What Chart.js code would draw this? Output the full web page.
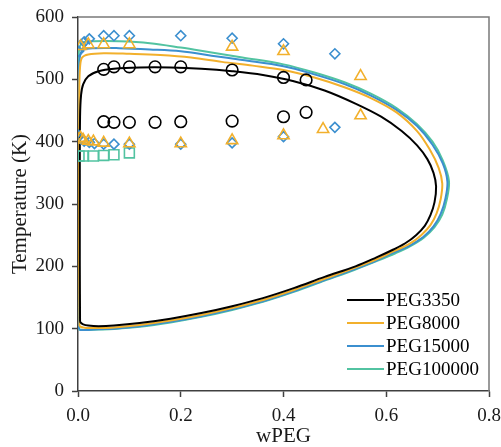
<!DOCTYPE html>
<html>
<head>
<meta charset="utf-8">
<script src="https://cdn.jsdelivr.net/npm/chart.js@4/dist/chart.umd.min.js"></script>
<style>
  html, body { margin: 0; padding: 0; background: #ffffff; }
  #c { display: block; }
</style>
</head>
<body>
<canvas id="c" width="501" height="447"></canvas>
<script>
// Binodal curves of PEG solutions: weight fraction of PEG vs temperature
const seriesNames  = ['PEG3350', 'PEG8000', 'PEG15000', 'PEG100000'];
const seriesColors = ['#000000', '#F2B02C', '#3B8FCF', '#52C3A1'];

const xTickValues = [0, 0.2, 0.4, 0.6, 0.8];
const yTickValues = [0, 100, 200, 300, 400, 500, 600];

// Model curves (closed loop: dilute branch, upper branch, nose, lower branch)
const peg3350W = [0.004, 0.0035, 0.0035, 0.004, 0.006, 0.01, 0.02, 0.04, 0.07, 0.12, 0.18, 0.24, 0.30, 0.36, 0.42, 0.48, 0.54, 0.59, 0.63, 0.66, 0.68, 0.692, 0.697, 0.694, 0.686, 0.675, 0.658, 0.637, 0.614, 0.58, 0.54, 0.48, 0.42, 0.36, 0.30, 0.24, 0.18, 0.12, 0.07, 0.04, 0.02, 0.01, 0.005, 0.004];
const peg3350T = [112, 200, 350, 440, 475, 492, 505, 513, 517, 519, 519, 517, 513, 507, 497, 482, 461, 440, 417, 394, 372, 350, 328, 303, 282, 265, 250, 237, 227, 214, 200, 183, 165, 149, 136, 125, 116, 109, 105, 104, 105, 107, 110, 112];

const peg8000W = [0.003, 0.002, 0.002, 0.0025, 0.004, 0.008, 0.02, 0.05, 0.10, 0.16, 0.22, 0.28, 0.34, 0.40, 0.46, 0.52, 0.57, 0.62, 0.66, 0.685, 0.702, 0.709, 0.706, 0.698, 0.686, 0.668, 0.645, 0.614, 0.58, 0.54, 0.48, 0.42, 0.36, 0.30, 0.24, 0.18, 0.12, 0.07, 0.04, 0.02, 0.01, 0.005, 0.003];
const peg8000T = [104, 200, 350, 480, 520, 535, 540, 542, 541, 539, 535, 528, 522, 515, 503, 487, 470, 447, 417, 387, 358, 333, 308, 285, 266, 250, 236, 224, 211, 198, 180, 162, 146, 133, 122, 113, 106, 102, 101, 101, 102, 103, 104];

const peg15000W = [0.002, 0.0015, 0.0015, 0.002, 0.004, 0.01, 0.03, 0.08, 0.14, 0.20, 0.26, 0.32, 0.40, 0.46, 0.52, 0.57, 0.62, 0.66, 0.69, 0.71, 0.719, 0.715, 0.706, 0.692, 0.672, 0.645, 0.614, 0.58, 0.54, 0.48, 0.42, 0.36, 0.30, 0.24, 0.18, 0.12, 0.07, 0.04, 0.02, 0.01, 0.005, 0.002];
const peg15000T = [99, 200, 400, 510, 538, 547, 550, 550, 548, 545, 538, 531, 521, 508, 492, 474, 451, 425, 395, 365, 336, 308, 284, 264, 247, 233, 222, 209, 196, 178, 160, 144, 131, 120, 111, 104, 100, 99, 98, 98, 98, 99];

const peg100000W = [0.001, 0.001, 0.001, 0.0012, 0.003, 0.01, 0.03, 0.08, 0.14, 0.20, 0.26, 0.32, 0.40, 0.46, 0.52, 0.57, 0.62, 0.66, 0.69, 0.71, 0.722, 0.718, 0.709, 0.694, 0.673, 0.646, 0.618, 0.58, 0.54, 0.48, 0.42, 0.36, 0.30, 0.24, 0.18, 0.12, 0.07, 0.04, 0.02, 0.01, 0.004, 0.001];
const peg100000T = [99, 200, 400, 530, 552, 559, 561, 561, 558, 551, 543, 535, 524, 511, 495, 477, 454, 428, 400, 370, 337, 308, 283, 263, 246, 232, 221, 208, 195, 177, 159, 143, 130, 119, 110, 103, 99.5, 98.5, 98, 98, 98.5, 99];

// Experimental cloud points
const exp3350W      = [0.05, 0.07, 0.10, 0.15, 0.20, 0.30, 0.40, 0.444];
const exp3350UpperT = [516, 520, 520, 520, 520, 515, 503, 499];
const exp3350LowerT = [432, 431, 431, 431, 432, 433, 440, 447];

const exp8000UpperW = [0.005, 0.02, 0.05, 0.10, 0.30, 0.40, 0.55];
const exp8000UpperT = [553, 556, 556, 556, 552, 545, 505];
const exp8000LowerW = [0.005, 0.01, 0.02, 0.03, 0.05, 0.10, 0.20, 0.30, 0.40, 0.477, 0.55];
const exp8000LowerT = [406, 403, 401, 400, 398, 397, 397, 402, 410, 420, 442];

const exp15000UpperW = [0.001, 0.006, 0.012, 0.022, 0.05, 0.07, 0.10, 0.20, 0.30, 0.40, 0.50];
const exp15000UpperT = [545, 555, 560, 565, 570, 570, 570, 570, 566, 557, 541];
const exp15000LowerW = [0.001, 0.006, 0.012, 0.022, 0.032, 0.05, 0.07, 0.10, 0.20, 0.30, 0.40, 0.50];
const exp15000LowerT = [410, 404, 401, 399, 397, 396, 396, 396, 396, 398, 408, 423];

const exp100000W = [0.002, 0.01, 0.03, 0.05, 0.07, 0.10];
const exp100000T = [377, 377, 377, 378, 379, 382];

const toPoints = (xs, ys) => xs.map((x, i) => ({ x: x, y: ys[i] }));

const serifFont = '"Liberation Serif", "Times New Roman", serif';

function curve(i, xs, ys) {
  return {
    label: seriesNames[i],
    data: toPoints(xs, ys),
    showLine: true,
    borderColor: seriesColors[i],
    backgroundColor: seriesColors[i],
    borderWidth: 2,
    pointRadius: 0,
    pointHoverRadius: 0,
    tension: 0.35,
    fill: false,
    isCurve: true
  };
}

function markers(label, xs, ys, color, style, radius) {
  return {
    label: label,
    data: toPoints(xs, ys),
    showLine: false,
    pointStyle: style,
    pointRadius: radius,
    pointBorderColor: color,
    pointBackgroundColor: 'rgba(255,255,255,0)',
    pointBorderWidth: 1.6,
    borderColor: color,
    backgroundColor: 'rgba(255,255,255,0)',
    isCurve: false
  };
}

// Gray frame along the top and right of the plot
const framePlugin = {
  id: 'frame',
  afterDraw(chart) {
    const a = chart.chartArea, ctx = chart.ctx;
    ctx.save();
    ctx.strokeStyle = '#7a7a7a';
    ctx.lineWidth = 1.5;
    ctx.beginPath();
    ctx.moveTo(a.left, a.top);
    ctx.lineTo(a.right, a.top);
    ctx.lineTo(a.right, a.bottom);
    ctx.stroke();
    ctx.restore();
  }
};

// Legend of the model curves, placed in the lower right corner of the plot
const cornerLegend = {
  id: 'cornerLegend',
  afterDraw(chart) {
    const a = chart.chartArea, ctx = chart.ctx;
    const curves = chart.data.datasets.filter(d => d.isCurve);
    ctx.save();
    ctx.font = '19px ' + serifFont;
    ctx.textBaseline = 'middle';
    ctx.textAlign = 'left';
    curves.forEach((d, i) => {
      const y = a.bottom - 91 + i * 23;
      ctx.strokeStyle = d.borderColor;
      ctx.lineWidth = 2;
      ctx.beginPath();
      ctx.moveTo(a.right - 142, y);
      ctx.lineTo(a.right - 105, y);
      ctx.stroke();
      ctx.fillStyle = '#000000';
      ctx.fillText(d.label, a.right - 103, y + 1);
    });
    ctx.restore();
  }
};

new Chart(document.getElementById('c'), {
  type: 'scatter',
  data: {
    datasets: [
      markers('PEG3350 upper', exp3350W, exp3350UpperT, seriesColors[0], 'circle', 5.8),
      markers('PEG3350 lower', exp3350W, exp3350LowerT, seriesColors[0], 'circle', 5.8),
      markers('PEG8000 upper', exp8000UpperW, exp8000UpperT, seriesColors[1], 'triangle', 6.5),
      markers('PEG8000 lower', exp8000LowerW, exp8000LowerT, seriesColors[1], 'triangle', 6.5),
      markers('PEG15000 upper', exp15000UpperW, exp15000UpperT, seriesColors[2], 'rectRot', 5),
      markers('PEG15000 lower', exp15000LowerW, exp15000LowerT, seriesColors[2], 'rectRot', 5),
      markers('PEG100000', exp100000W, exp100000T, seriesColors[3], 'rect', 7),
      curve(0, peg3350W, peg3350T),
      curve(1, peg8000W, peg8000T),
      curve(2, peg15000W, peg15000T),
      curve(3, peg100000W, peg100000T)
    ]
  },
  options: {
    responsive: false,
    animation: false,
    events: [],
    layout: { padding: { top: 17, right: 12, left: 0, bottom: 0 } },
    plugins: {
      legend: { display: false },
      tooltip: { enabled: false }
    },
    scales: {
      x: {
        type: 'linear',
        min: 0,
        max: 0.8,
        afterBuildTicks: s => { s.ticks = xTickValues.map(v => ({ value: v })); },
        afterFit: s => { s.height = 56; s.paddingLeft = 0; s.paddingRight = 0; },
        ticks: {
          callback: v => v.toFixed(1),
          color: '#1a1a1a',
          font: { family: serifFont, size: 19 },
          padding: 8,
          maxRotation: 0
        },
        grid: {
          drawOnChartArea: false,
          drawTicks: true,
          tickLength: 6,
          tickColor: '#404040',
          tickWidth: 1.5
        },
        border: { color: '#404040', width: 1.5 },
        title: {
          display: true,
          text: 'wPEG',
          color: '#1a1a1a',
          font: { family: serifFont, size: 21, lineHeight: 1.0 },
          padding: { top: 0, bottom: 0 }
        }
      },
      y: {
        type: 'linear',
        min: 0,
        max: 600,
        afterBuildTicks: s => { s.ticks = yTickValues.map(v => ({ value: v })); },
        afterFit: s => { s.width = 78; s.paddingTop = 0; s.paddingBottom = 0; },
        ticks: {
          color: '#1a1a1a',
          font: { family: serifFont, size: 19 },
          padding: 8
        },
        grid: {
          drawOnChartArea: false,
          drawTicks: true,
          tickLength: 6,
          tickColor: '#404040',
          tickWidth: 1.5
        },
        border: { color: '#404040', width: 1.5 },
        title: {
          display: true,
          text: 'Temperature (K)',
          color: '#1a1a1a',
          font: { family: serifFont, size: 21 },
          padding: { top: 8, bottom: 0 }
        }
      }
    }
  },
  plugins: [framePlugin, cornerLegend]
});
</script>
</body>
</html>
